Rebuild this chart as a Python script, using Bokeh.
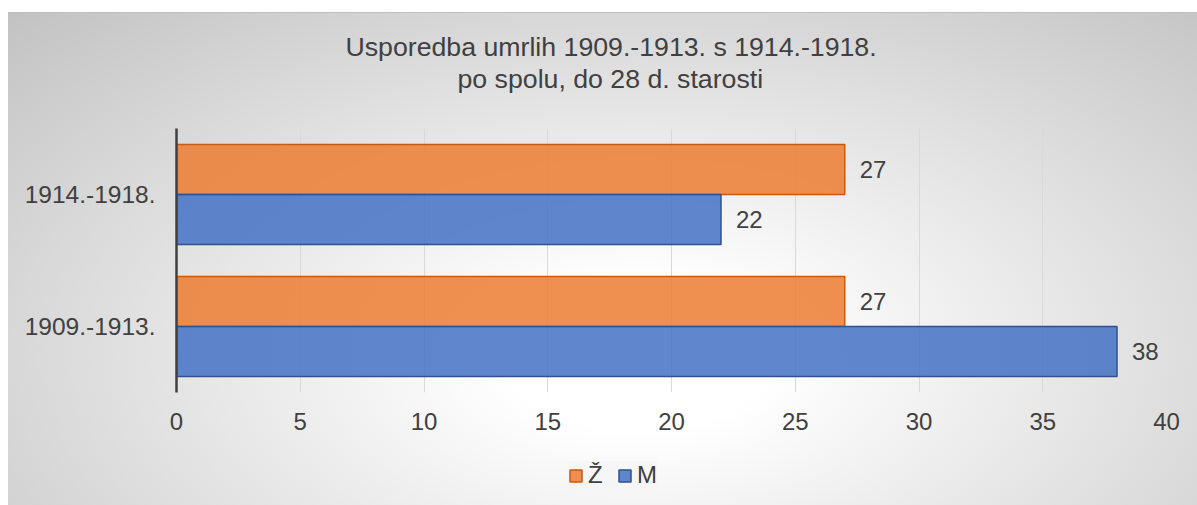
from bokeh.plotting import figure
from bokeh.layouts import column
from bokeh.models import ColumnDataSource, FactorRange, Range1d, Legend, LegendItem, Title
from bokeh.transform import dodge
from bokeh.core.properties import value
from bokeh.embed import file_html
from bokeh.resources import INLINE

# ---- data ----
categories = ["1909.-1913.", "1914.-1918."]   # bottom to top
zene = [27, 27]        # Ž
muski = [38, 22]       # M
series_labels = ["Ž", "M"]
title_lines = ["Usporedba umrlih 1909.-1913. s 1914.-1918.", "po spolu, do 28 d. starosti"]
x_ticks = [0, 5, 10, 15, 20, 25, 30, 35, 40]

FONT = "Liberation Sans"
TXT = "#404040"
Z_FILL, Z_LINE = "#ED7D31", "#C55A11"
M_FILL, M_LINE = "#4472C4", "#2F528F"

src = ColumnDataSource(dict(
    cat=categories, z=zene, m=muski,
    zt=[str(v) for v in zene], mt=[str(v) for v in muski],
))

p = figure(
    frame_width=990, frame_height=264,
    y_range=FactorRange(factors=categories, range_padding=0),
    x_range=Range1d(0, 40),
    output_backend="svg", toolbar_location=None,
    min_border_left=176, min_border_right=31,
    min_border_top=128, min_border_bottom=49,
)
p.background_fill_color = None
p.border_fill_color = None
p.outline_line_color = None

# title: line 1 on top, line 2 below it, a thin spacer between line 2 and the plot
p.title.text = title_lines[0]
p.title.align = "left"
p.title.offset = 169
p.title.text_font = FONT
p.title.text_font_size = "26.7px"
p.title.text_font_style = "normal"
p.title.text_color = TXT
p.title.standoff = 0
spacer = Title(text=" ", text_font_size="1px", standoff=32)
p.add_layout(spacer, "above")
t2 = Title(text=title_lines[1], align="left", offset=281, text_font=FONT,
           text_font_size="26.7px", text_font_style="normal", text_color=TXT, standoff=0)
p.add_layout(t2, "above")

off = 0.19
bh = 0.379
p.hbar(y=dodge("cat", off, range=p.y_range), right="z", left=0, height=bh, source=src,
       fill_color=Z_FILL, fill_alpha=0.85, line_color=Z_LINE, line_width=1.5)
p.hbar(y=dodge("cat", -off, range=p.y_range), right="m", left=0, height=bh, source=src,
       fill_color=M_FILL, fill_alpha=0.85, line_color=M_LINE, line_width=1.5)

p.text(x="z", y=dodge("cat", off, range=p.y_range), text="zt", source=src, x_offset=15,
       text_baseline="middle", text_align="left", text_font=value(FONT),
       text_font_size="24px", text_color=TXT)
p.text(x="m", y=dodge("cat", -off, range=p.y_range), text="mt", source=src, x_offset=15,
       text_baseline="middle", text_align="left", text_font=value(FONT),
       text_font_size="24px", text_color=TXT)

# axes
p.xaxis.ticker = x_ticks
p.xaxis.axis_line_color = None
p.xaxis.major_tick_line_color = None
p.xaxis.minor_tick_line_color = None
p.xaxis.major_tick_out = 0
p.xaxis.minor_tick_out = 0
p.xaxis.major_label_standoff = 20
p.xaxis.major_label_text_font = FONT
p.xaxis.major_label_text_font_size = "24px"
p.xaxis.major_label_text_color = TXT

p.yaxis.axis_line_color = "#404040"
p.yaxis.axis_line_width = 2.5
p.yaxis.major_tick_line_color = None
p.yaxis.minor_tick_line_color = None
p.yaxis.major_tick_out = 0
p.yaxis.minor_tick_out = 0
p.yaxis.major_label_standoff = 21
p.yaxis.major_label_text_font = FONT
p.yaxis.major_label_text_font_size = "24.5px"
p.yaxis.major_label_text_color = TXT

p.xgrid.grid_line_color = "#d9d9d9"
p.xgrid.grid_line_width = 1
p.ygrid.grid_line_color = None

# ---- legend strip (separate small figure below the chart) ----
lg = figure(width=1197, height=64, x_range=Range1d(0, 1197), y_range=Range1d(0, 64),
            output_backend="svg", toolbar_location=None, min_border=0,
            x_axis_type=None, y_axis_type=None)
lg.background_fill_color = None
lg.border_fill_color = None
lg.outline_line_color = None
lg.grid.visible = False
# legend-key renderers (same data, not drawn on the strip itself)
dz = lg.hbar(y="z", right="z", height=1, source=src, fill_color=Z_FILL, fill_alpha=0.85,
             line_color=Z_LINE, line_width=1.5, visible=False)
dm = lg.hbar(y="m", right="m", height=1, source=src, fill_color=M_FILL, fill_alpha=0.85,
             line_color=M_LINE, line_width=1.5, visible=False)
legend = Legend(
    items=[LegendItem(label=series_labels[0], renderers=[dz]),
           LegendItem(label=series_labels[1], renderers=[dm])],
    orientation="horizontal", location=(392, 16),
    glyph_width=15, glyph_height=15, label_standoff=5, spacing=9,
    padding=10, margin=0,
    label_text_font=FONT, label_text_font_size="24px", label_text_color=TXT,
    background_fill_color="#f4f4f4", background_fill_alpha=0.5,
    border_line_color=None,
    inactive_fill_alpha=0.0,
)
lg.add_layout(legend, "center")

page = column(p, lg, spacing=0)
page.styles = {
    "background": (
        "linear-gradient(#ffffff,#ffffff) 0 0 / 100% 12px no-repeat, "
        "linear-gradient(#ffffff,#ffffff) 0 0 / 8px 100% no-repeat, "
        "linear-gradient(#bfbfbf,#bfbfbf) 8px 12px / 100% 1px no-repeat, "
        "radial-gradient(ellipse at 53% 70%, #ffffff 0%, #ffffff 15%, #c2c2c2 100%) "
        "8px 12px / calc(100% - 8px) calc(100% - 12px) no-repeat"
    )
}

open("out.html", "w").write(file_html(page, INLINE))
